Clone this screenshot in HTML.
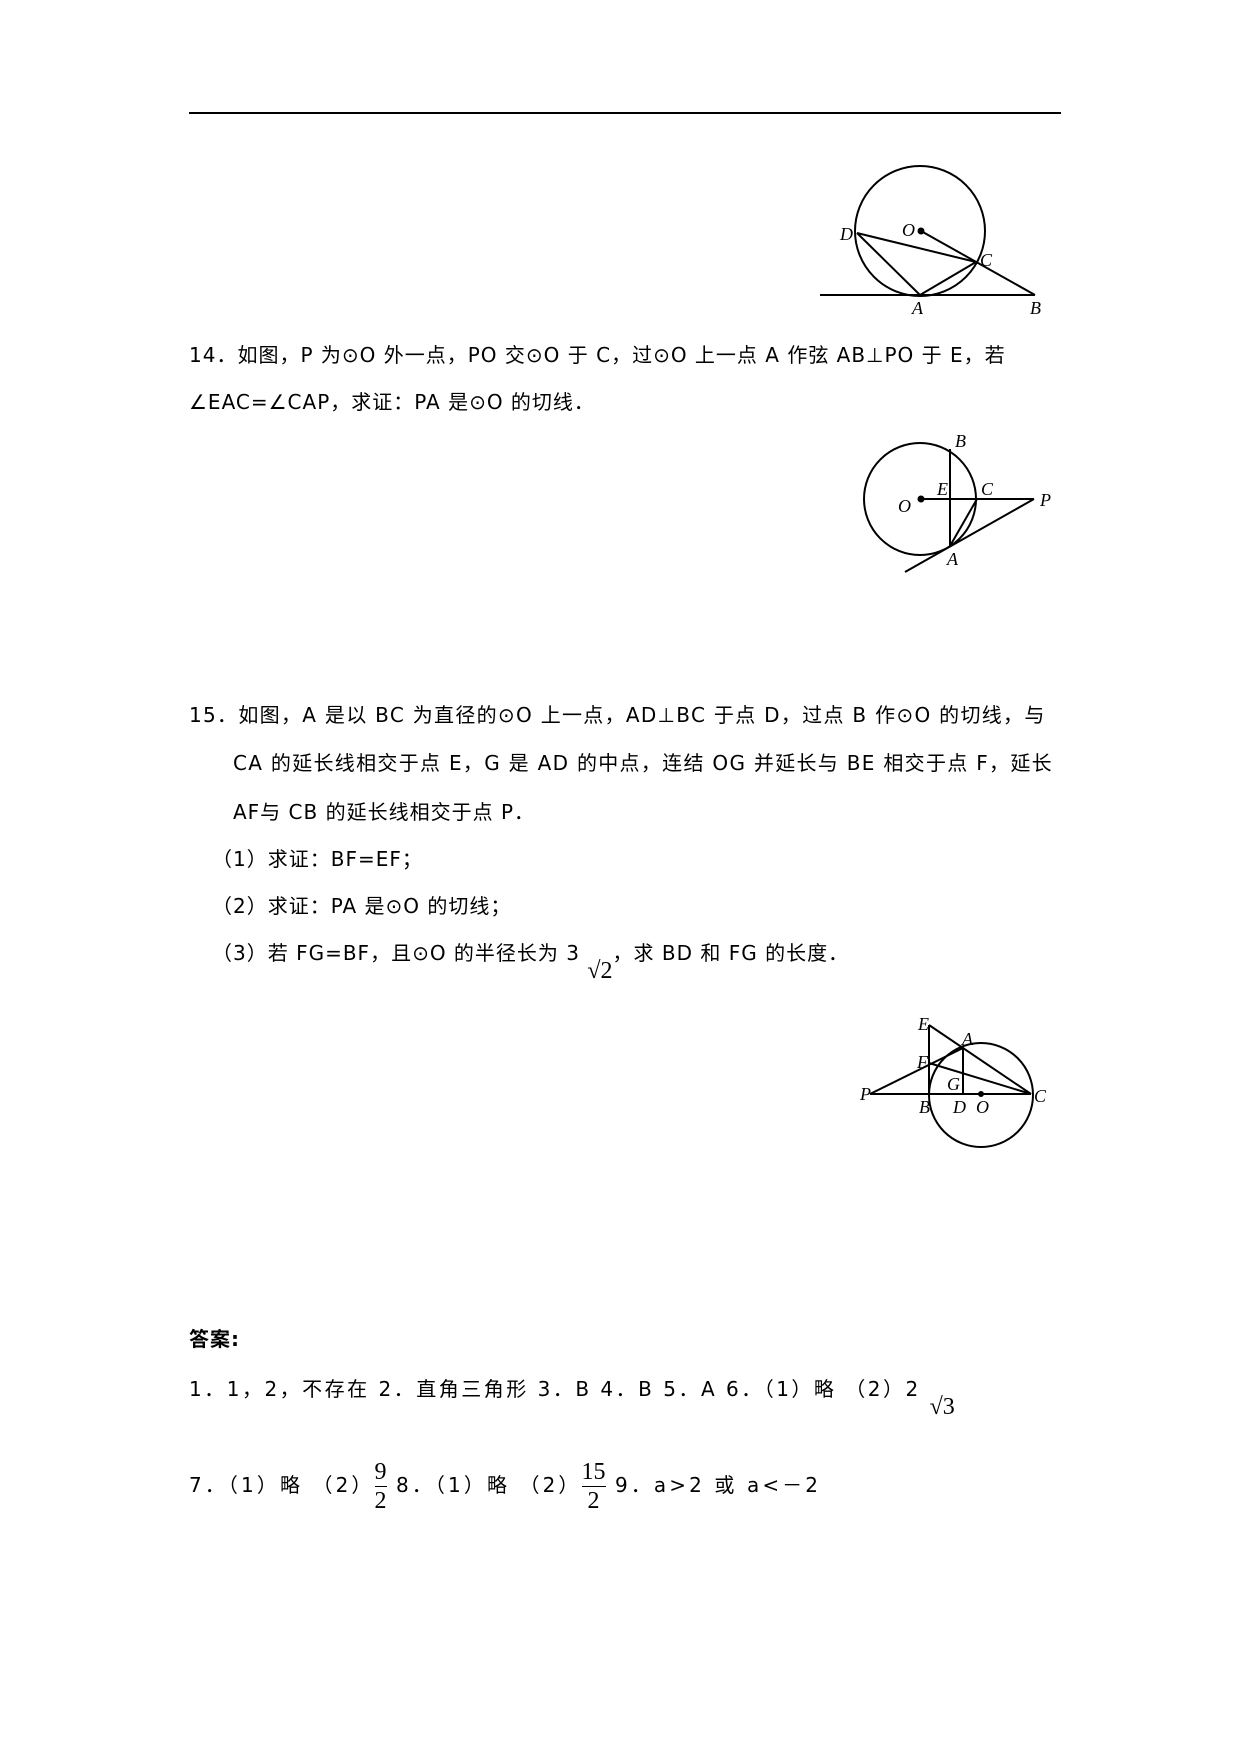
<!DOCTYPE html>
<html><head><meta charset="utf-8"><style>
body{margin:0;background:#fff;}
#p{position:relative;width:1240px;height:1754px;overflow:hidden;font-family:"DejaVu Sans","Liberation Sans","Noto Sans CJK SC",sans-serif;font-size:20px;color:#000;}
.t{position:absolute;white-space:nowrap;line-height:24px;letter-spacing:1px;}
svg{position:absolute;left:0;top:0;}
.l{font-family:"Liberation Serif",serif;font-style:italic;font-size:18px;}
.m{font-family:"Liberation Serif",serif;font-size:24px;letter-spacing:0;}
</style></head><body><div id="p">
<svg width="1240" height="1754" fill="none" stroke="#000" stroke-width="2">
<line x1="189" y1="113" x2="1061" y2="113"/>
<circle cx="920" cy="231" r="65"/>
<line x1="820" y1="295" x2="1035" y2="295"/>
<line x1="857" y1="233" x2="976" y2="262"/>
<line x1="921" y1="231" x2="1035" y2="295"/>
<line x1="857" y1="233" x2="920" y2="295"/>
<line x1="920" y1="295" x2="976" y2="262"/>
<circle cx="921" cy="231" r="2.5" fill="#000"/>
<g stroke="none" fill="#000">
<text class="l" x="840" y="240">D</text><text class="l" x="902" y="236">O</text>
<text class="l" x="980" y="266">C</text><text class="l" x="912" y="314">A</text><text class="l" x="1030" y="314">B</text>
</g>
<circle cx="920" cy="499" r="56"/>
<line x1="921" y1="499" x2="1034" y2="499"/>
<line x1="950" y1="449" x2="950" y2="546"/>
<line x1="905" y1="572" x2="1034" y2="499"/>
<line x1="950" y1="546" x2="977" y2="499"/>
<circle cx="921" cy="499" r="2.5" fill="#000"/>
<g stroke="none" fill="#000">
<text class="l" x="955" y="447">B</text><text class="l" x="937" y="495">E</text>
<text class="l" x="981" y="495">C</text><text class="l" x="1040" y="506">P</text>
<text class="l" x="898" y="512">O</text><text class="l" x="947" y="565">A</text>
</g>
<circle cx="981" cy="1095" r="52"/>
<line x1="870" y1="1094" x2="1031" y2="1094"/>
<line x1="929" y1="1025" x2="929" y2="1094"/>
<line x1="929" y1="1025" x2="1031" y2="1094"/>
<line x1="963" y1="1048" x2="963" y2="1094"/>
<line x1="870" y1="1094" x2="963" y2="1048"/>
<line x1="929" y1="1063" x2="1031" y2="1094"/>
<circle cx="981" cy="1094" r="2" fill="#000"/>
<g stroke="none" fill="#000">
<text class="l" x="918" y="1030">E</text><text class="l" x="962" y="1045">A</text>
<text class="l" x="917" y="1068">F</text><text class="l" x="947" y="1090">G</text>
<text class="l" x="860" y="1100">P</text><text class="l" x="919" y="1113">B</text>
<text class="l" x="953" y="1113">D</text><text class="l" x="976" y="1113">O</text>
<text class="l" x="1034" y="1102">C</text>
</g>
</svg>
<div class="t" style="left:189px;top:343px">14．如图，P 为⊙O 外一点，PO 交⊙O 于 C，过⊙O 上一点 A 作弦 AB⊥PO 于 E，若</div>
<div class="t" style="left:189px;top:390px">∠EAC=∠CAP，求证：PA 是⊙O 的切线．</div>
<div class="t" style="left:189px;top:703px;letter-spacing:1.3px">15．如图，A 是以 BC 为直径的⊙O 上一点，AD⊥BC 于点 D，过点 B 作⊙O 的切线，与</div>
<div class="t" style="left:233px;top:751px;letter-spacing:1.3px">CA 的延长线相交于点 E，G 是 AD 的中点，连结 OG 并延长与 BE 相交于点 F，延长</div>
<div class="t" style="left:233px;top:800px">AF与 CB 的延长线相交于点 P．</div>
<div class="t" style="left:212px;top:847px">（1）求证：BF=EF；</div>
<div class="t" style="left:212px;top:894px">（2）求证：PA 是⊙O 的切线；</div>
<div class="t" style="left:212px;top:941px">（3）若 FG=BF，且⊙O 的半径长为 3 <span class="m" style="position:relative;top:18px">√2</span>，求 BD 和 FG 的长度．</div>
<div class="t" style="left:189px;top:1327px;font-weight:bold;font-size:20px">答案:</div>
<div class="t" style="left:189px;top:1377px;letter-spacing:2.5px">1．1，2，不存在 2．直角三角形 3．B 4．B 5．A 6．（1）略 （2）2 <span class="m" style="position:relative;top:18px">√3</span></div>
<div class="t" style="left:189px;top:1458px;letter-spacing:3.1px">7．（1）略 （2）<span class="m" style="display:inline-block;text-align:center;vertical-align:middle;line-height:28px"><span style="display:block;border-bottom:1px solid #000">9</span><span style="display:block">2</span></span> 8．（1）略 （2）<span class="m" style="display:inline-block;text-align:center;vertical-align:middle;line-height:28px"><span style="display:block;border-bottom:1px solid #000">15</span><span style="display:block">2</span></span> 9．a&gt;2 或 a&lt;－2</div>
</div></body></html>
